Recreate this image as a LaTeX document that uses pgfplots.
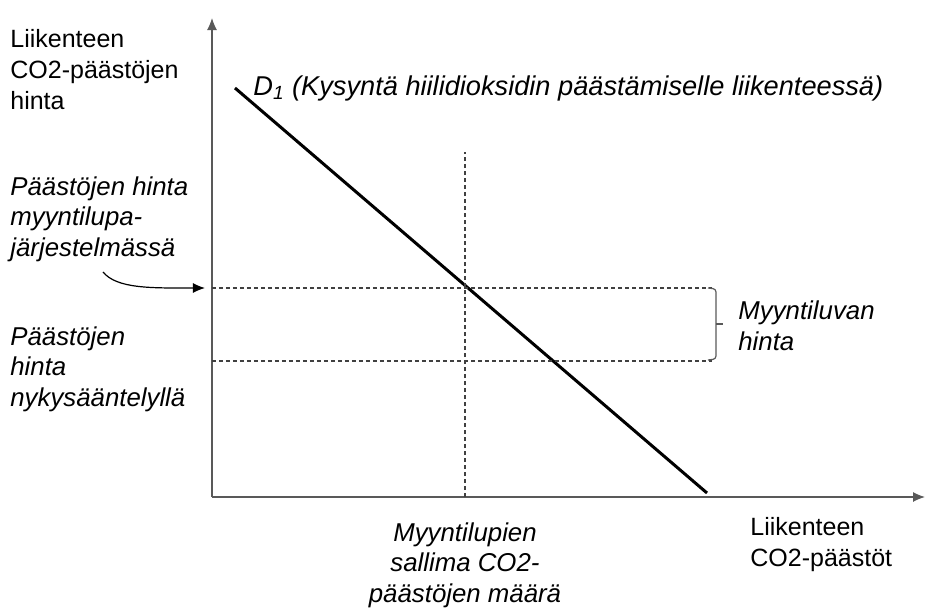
\documentclass[border=0pt]{standalone}
\usepackage{pgfplots}
\pgfplotsset{compat=1.18}
\usepackage{fontspec}
\setmainfont{Liberation Sans}
\usetikzlibrary{arrows.meta}
\begin{document}
\begin{tikzpicture}
% 1 px of the reference = 0.5pt; axis units are reference pixels
\begin{axis}[
  scale only axis,
  width=356.5pt, height=239.5pt,
  xmin=0, xmax=713, ymin=0, ymax=479,
  axis lines=left,
  axis line style={black!65, line width=0.6pt, -{Latex[length=6pt,width=5pt]}},
  xtick=\empty, ytick=\empty,
  clip=false,
]
% demand curve
\addplot[black, line width=1.5pt] coordinates {(23,409) (495,4)};
% dashed guides
\addplot[black!75, line width=0.6pt, dash pattern=on 2pt off 1.5pt] coordinates {(253,0) (253,345)};
\addplot[black!75, line width=0.6pt, dash pattern=on 2pt off 1.5pt] coordinates {(0,209) (500,209)};
\addplot[black!75, line width=0.6pt, dash pattern=on 2pt off 1.5pt] coordinates {(0,136) (500,136)};

% bracket
\draw[black!65, line width=0.6pt, rounded corners=1.5pt]
  (axis cs:496,209) -- (axis cs:504,208) -- (axis cs:504,138) -- (axis cs:496,137);
\draw[black!65, line width=0.6pt] (axis cs:504,173) -- (axis cs:511,173);

% curved arrow
\draw[black, line width=0.6pt, -{Latex[length=6pt,width=5pt]}]
  (axis cs:-109,225) .. controls (axis cs:-95,208) and (axis cs:-60,209) .. (axis cs:-7,209);

\tikzset{lbl/.style={font=\fontsize{12.5}{15.5}\selectfont, inner sep=0pt},
         ilbl/.style={font=\fontsize{12.9}{15.3}\selectfont\itshape, inner sep=0pt}}
\node[lbl, anchor=west, align=left] at (axis cs:-202,427) {Liikenteen\\CO2-päästöjen\\hinta};
\node[ilbl, anchor=west, align=left] at (axis cs:-202,278) {Päästöjen hinta\\myyntilupa-\\järjestelmässä};
\node[ilbl, anchor=west, align=left] at (axis cs:-202,128) {Päästöjen\\hinta\\nykysääntelyllä};
\node[ilbl, anchor=west, font=\fontsize{13.6}{16}\selectfont\itshape] at (axis cs:41,409) {D$_{\mathit 1}$ (Kysyntä hiilidioksidin päästämiselle liikenteessä)};
\node[ilbl, anchor=west, align=left] at (axis cs:526,171) {Myyntiluvan\\hinta};
\node[ilbl, anchor=center, align=center] at (axis cs:253,-68) {Myyntilupien\\sallima CO2-\\päästöjen määrä};
\node[lbl, anchor=west, align=left] at (axis cs:538,-48) {Liikenteen\\CO2-päästöt};

\coordinate (bl) at (axis cs:-212,-108);
\coordinate (tr) at (axis cs:719,497);
\end{axis}
\path (bl) rectangle (tr);
\end{tikzpicture}
\end{document}
